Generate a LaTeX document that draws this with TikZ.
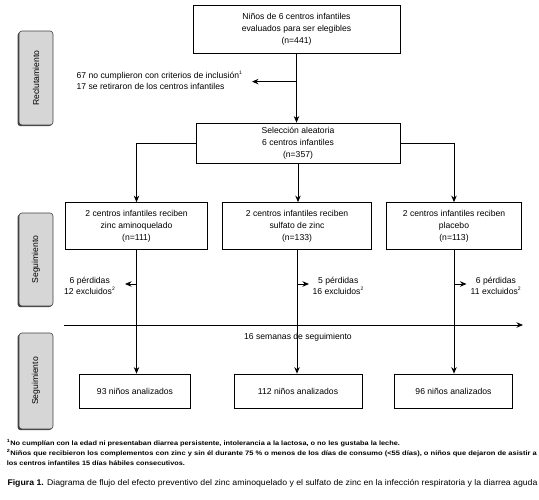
\documentclass[tikz,border=0pt]{standalone}
\usepackage{fontspec}
\setmainfont{Liberation Sans}
\usepackage{graphicx}
\usetikzlibrary{arrows.meta}
\begin{document}
\begin{tikzpicture}[x=1pt,y=-1pt,
  box/.style={draw,line width=0.8pt,inner sep=0pt,align=center,font=\fontsize{8.6}{12}\selectfont},
  arr/.style={-{Stealth[length=6.5pt,width=5.5pt]},line width=0.8pt},
  ln/.style={line width=0.8pt},
  lbl/.style={font=\fontsize{8.6}{11}\selectfont,inner sep=0pt},
  band/.style={draw=black!75,fill=black!16,rounded corners=3pt,line width=0.6pt,inner sep=0pt,font=\fontsize{8.6}{10}\selectfont},
  shade/.style={fill=black!75,rounded corners=3pt},
  fn/.style={font=\fontsize{6.4}{7}\selectfont\bfseries,inner sep=0pt,anchor=base west},
  captext/.style={font=\fontsize{8.2}{9}\selectfont,inner sep=0pt,anchor=base west},
]
\useasboundingbox (0,0) rectangle (539,499);

% side bands
\fill[shade] (17.6,32.2) rectangle (52,126.2);
\node[band,rotate=90,minimum width=94pt,minimum height=34pt] (b1) at (36,78) {Reclutamiento};
\fill[shade] (17.6,214.2) rectangle (52,307.2);
\node[band,rotate=90,minimum width=93pt,minimum height=34pt] (b2) at (36,259.5) {Seguimiento};
\fill[shade] (17.6,334.2) rectangle (52,430.2);
\node[band,rotate=90,minimum width=96pt,minimum height=34pt] (b3) at (36,381) {Seguimiento};

% boxes
\node[box,minimum width=207pt,minimum height=47.5pt] (top) at (296.5,29.2)
  {Niños de 6 centros infantiles\\evaluados para ser elegibles\\(n=441)};
\node[box,minimum width=204pt,minimum height=40pt] (sel) at (298,143)
  {Selección aleatoria\\6 centros infantiles\\(n=357)};
\node[box,minimum width=142pt,minimum height=47pt] (g1) at (136.5,226)
  {2 centros infantiles reciben\\zinc aminoquelado\\(n=111)};
\node[box,minimum width=149.5pt,minimum height=47pt] (g2) at (297,226)
  {2 centros infantiles reciben\\sulfato de zinc\\(n=133)};
\node[box,minimum width=134.5pt,minimum height=47pt] (g3) at (454,226)
  {2 centros infantiles reciben\\placebo\\(n=113)};
\node[box,minimum width=110.5pt,minimum height=34pt] (r1) at (135,391) {93 niños analizados};
\node[box,minimum width=128pt,minimum height=34pt] (r2) at (298,391) {112 niños analizados};
\node[box,minimum width=117.5pt,minimum height=34pt] (r3) at (453.5,391) {96 niños analizados};

% exclusion from top
\coordinate (t1) at (252,81.6);
\draw[arr] (top.south |- t1) -- (t1);
\node[lbl,anchor=west,align=left] (ex0) at (76.5,80)
  {67 no cumplieron con criterios de inclusión\textsuperscript{\fontsize{5}{5}\selectfont 1}\\17 se retiraron de los centros infantiles};
\draw[arr] (top.south) -- (top.south |- sel.north);

% branches
\draw[arr] (sel.west) -| (g1.north);
\draw[arr] (sel.south) -- (sel.south |- g2.north);
\draw[arr] (sel.east) -| (g3.north);

% down to results
\draw[arr] (g1.south) -- (g1.south |- r1.north);
\draw[arr] (g2.south) -- (g2.south |- r2.north);
\draw[arr] (g3.south) -- (g3.south |- r3.north);

% losses
\coordinate (l1) at (125,284);
\coordinate (l2) at (309,284);
\coordinate (l3) at (466.5,284);
\draw[arr] (g1.south |- l1) -- (l1);
\draw[arr] (g2.south |- l2) -- (l2);
\draw[arr] (g3.south |- l3) -- (l3);
\node[lbl,align=center,anchor=east] (x1) at (115.5,285.5) {6 pérdidas\\12 excluidos\textsuperscript{\fontsize{5}{5}\selectfont 2}};
\node[lbl,align=center,anchor=west] (x2) at (312.5,285.5) {5 pérdidas\\16 excluidos\textsuperscript{\fontsize{5}{5}\selectfont 2}};
\node[lbl,align=center,anchor=west] (x3) at (470.5,285.5) {6 pérdidas\\11 excluidos\textsuperscript{\fontsize{5}{5}\selectfont 2}};

% timeline
\coordinate (ta) at (63.5,325);
\coordinate (tb) at (523,325);
\draw[arr] (ta) -- (tb);
\node[lbl] (tl) at (298,337) {16 semanas de seguimiento};

% footnotes
\node[fn] (f1) at (6.7,445) {\resizebox{393pt}{\height}{\textsuperscript{\fontsize{4.5}{5}\selectfont 1}No cumplían con la edad ni presentaban diarrea persistente, intolerancia a la lactosa, o no les gustaba la leche.}};
\node[fn] (f2) at (6.7,455) {\resizebox{530pt}{\height}{\textsuperscript{\fontsize{4.5}{5}\selectfont 2}Niños que recibieron los complementos con zinc y sin él durante 75 \% o menos de los días de consumo (<55 días), o niños que dejaron de asistir a}};
\node[fn] (f3) at (6.7,465) {\resizebox{178pt}{\height}{los centros infantiles 15 días hábiles consecutivos.}};
\node[captext] (c1) at (7.3,485.5) {\resizebox{530pt}{\height}{\textbf{Figura 1.} Diagrama de flujo del efecto preventivo del zinc aminoquelado y el sulfato de zinc en la infección respiratoria y la diarrea aguda}};
\end{tikzpicture}
\end{document}
